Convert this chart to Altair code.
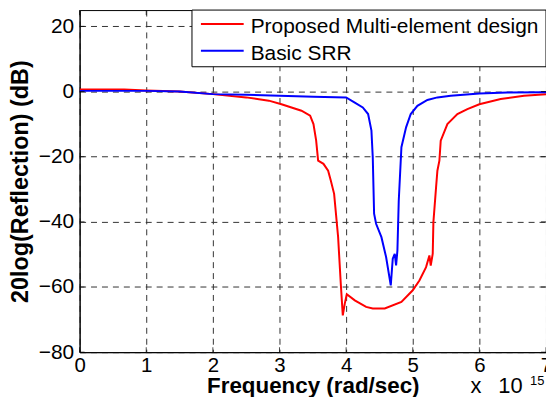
import altair as alt
import pandas as pd

# Proposed Multi-element design (red)
red_x = [0, 0.67, 1.0, 1.5, 2.0, 2.5, 2.84, 3.03, 3.33, 3.46, 3.51, 3.55, 3.58, 3.66, 3.73, 3.77,
         3.82, 3.88, 3.92, 3.95, 3.98, 4.01, 4.13, 4.30, 4.40, 4.58, 4.83, 5.0, 5.10, 5.2, 5.25,
         5.27, 5.30, 5.31, 5.35, 5.37, 5.40, 5.42, 5.52, 5.67, 5.82, 6.0, 6.32, 6.67, 7.0]
red_y = [0.6, 0.6, 0.3, 0.0, -0.8, -1.8, -2.8, -3.9, -5.9, -7.4, -10, -15, -21.2, -22.2, -24.3, -27.3,
         -31.4, -44.7, -59, -68.7, -65.1, -62.2, -64.1, -66.1, -66.6, -66.6, -64.6, -61, -58, -53.9, -50.3,
         -53.4, -49.8, -40.1, -29.4, -24.3, -21.2, -15.1, -10, -6.9, -5.4, -3.9, -2.3, -1.3, -0.8]

# Basic SRR (blue)
blue_x = [0, 0.5, 1.0, 1.5, 2.0, 2.5, 3.0, 3.51, 4.0, 4.13, 4.25, 4.33, 4.38, 4.40, 4.42, 4.45,
          4.53, 4.60, 4.67, 4.70, 4.73, 4.75, 4.77, 4.79, 4.83, 4.90, 4.97, 5.07, 5.22, 5.37, 5.57,
          6.0, 6.42, 7.0]
blue_y = [0.2, 0.2, 0.2, 0.0, -0.8, -1.0, -1.3, -1.6, -1.8, -3.4, -4.9, -6.9, -12, -20.2, -37.5, -40.6,
          -44.7, -50.8, -59.5, -51.3, -49.8, -53.4, -48.8, -33.5, -17.1, -11, -6.9, -4.4, -2.6, -1.8, -1.3,
          -0.6, -0.3, -0.2]

series_names = ["Proposed Multi-element design", "Basic SRR"]
series_colors = ["#ff0000", "#0000ff"]

x_ticks = [0, 1, 2, 3, 4, 5, 6, 7]
y_ticks = [-80, -60, -40, -20, 0, 20]

rows = []
for i, (x, y) in enumerate(zip(red_x, red_y)):
    rows.append({"x": x, "y": y, "s": series_names[0], "i": i})
for i, (x, y) in enumerate(zip(blue_x, blue_y)):
    rows.append({"x": x, "y": y, "s": series_names[1], "i": i})
df = pd.DataFrame(rows)

W, H = 469, 344
FONT = "Liberation Sans"

xs = alt.Scale(domain=[0, 7], nice=False, zero=False)
ys = alt.Scale(domain=[-80, 25], nice=False, zero=False)

lines = alt.Chart(df).mark_line(strokeWidth=2, clip=True).encode(
    x=alt.X("x:Q", scale=xs,
            axis=alt.Axis(values=x_ticks, title="Frequency (rad/sec)", format="d",
                          labelPadding=3, labelFlush=False, labelFontSize=20.5,
                          titleBaseline="alphabetic", titleY=41, titleFontSize=22.5)),
    y=alt.Y("y:Q", scale=ys,
            axis=alt.Axis(values=y_ticks, title="20log(Reflection) (dB)", format="d",
                          labelPadding=6, titlePadding=6, labelFlush=False)),
    color=alt.Color("s:N", scale=alt.Scale(domain=series_names, range=series_colors), legend=None),
    order="i:Q",
)

xt = pd.DataFrame({"x": x_ticks})
yt = pd.DataFrame({"y": y_ticks})
tick_bot = alt.Chart(xt).mark_tick(color="black", thickness=1, size=5).encode(
    x=alt.X("x:Q", scale=xs), y=alt.value(H - 2.5))
tick_top = alt.Chart(xt).mark_tick(color="black", thickness=1, size=5).encode(
    x=alt.X("x:Q", scale=xs), y=alt.value(2.5))
tick_left = alt.Chart(yt).mark_tick(color="black", thickness=1, size=5).encode(
    y=alt.Y("y:Q", scale=ys), x=alt.value(2.5))
tick_right = alt.Chart(yt).mark_tick(color="black", thickness=1, size=5).encode(
    y=alt.Y("y:Q", scale=ys), x=alt.value(W - 2.5))

# legend (MATLAB style box in the top-right corner)
one = pd.DataFrame({"k": [0]})
leg_box = alt.Chart(one).mark_rect(fill="white", stroke="black", strokeWidth=1).encode(
    x=alt.value(113), x2=alt.value(W), y=alt.value(0), y2=alt.value(57))
leg_layers = [leg_box]
for k, (name, col) in enumerate(zip(series_names, series_colors)):
    ly = 14 + 27 * k
    ldf = pd.DataFrame({"name": [name]})
    leg_layers.append(alt.Chart(ldf).mark_rule(color=col, strokeWidth=2).encode(
        x=alt.value(122), x2=alt.value(165), y=alt.value(ly)))
    leg_layers.append(alt.Chart(ldf).mark_text(font=FONT, fontSize=21, align="left",
                                               baseline="alphabetic", color="black").encode(
        text="name:N", x=alt.value(172), y=alt.value(ly + 9)))

exp_df = pd.DataFrame({"x": ["x"], "t": ["10"], "sup": ["15"]})
exp_x = alt.Chart(exp_df).mark_text(font=FONT, fontSize=22, align="left", baseline="alphabetic",
                                    color="black").encode(
    text="x:N", x=alt.value(393), y=alt.value(385))
exp_main = alt.Chart(exp_df).mark_text(font=FONT, fontSize=22, align="left", baseline="alphabetic",
                                       color="black").encode(
    text="t:N", x=alt.value(421), y=alt.value(385))
exp_sup = alt.Chart(exp_df).mark_text(font=FONT, fontSize=13, align="left", baseline="alphabetic",
                                      color="black").encode(
    text="sup:N", x=alt.value(453), y=alt.value(377))

chart = alt.layer(lines, tick_bot, tick_top, tick_left, tick_right, *leg_layers,
                  exp_x, exp_main, exp_sup).properties(
    width=W, height=H,
    background="white",
    autosize=alt.AutoSizeParams(type="none"),
    padding={"left": 72, "top": 1, "right": 0, "bottom": 44},
).configure_view(stroke="black", strokeWidth=1).configure_axis(
    labelFont=FONT, labelFontSize=21, labelColor="black",
    titleFont=FONT, titleFontSize=23.5, titleFontWeight="bold", titleColor="black",
    domainColor="black", domainWidth=1, tickSize=0,
    grid=True, gridColor="#333333", gridDash=[6, 5], gridWidth=1, gridOpacity=1,
)

chart.save("out.html", embed_options={"renderer": "svg", "actions": False})
